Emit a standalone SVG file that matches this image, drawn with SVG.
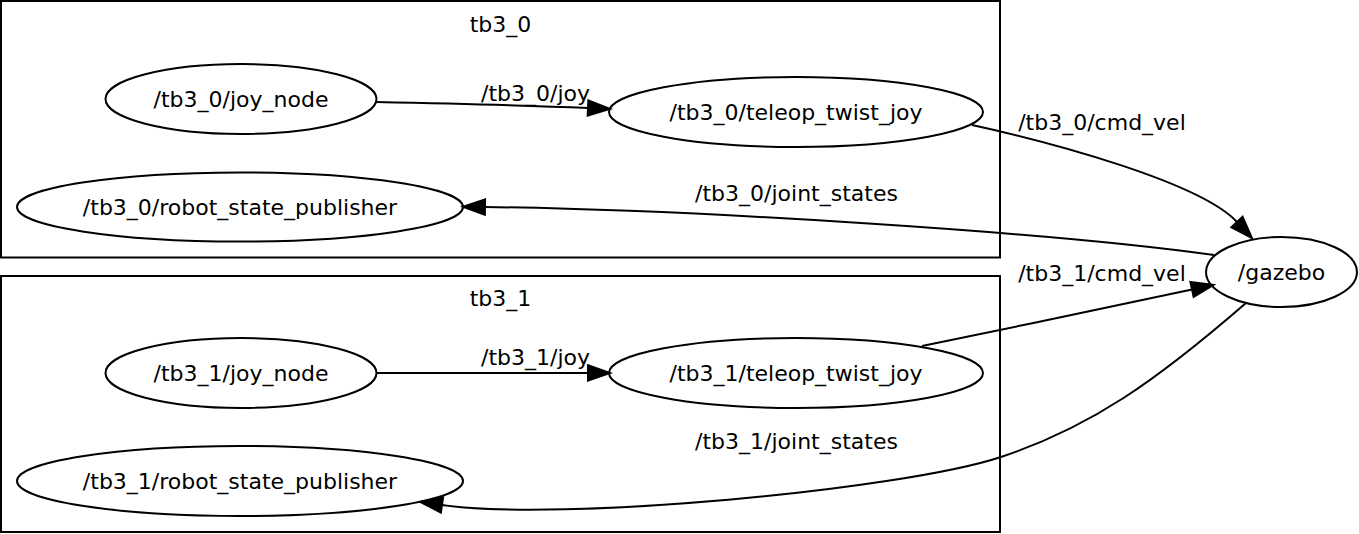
<svg xmlns="http://www.w3.org/2000/svg" width="1359" height="534" viewBox="0 0 1359 534">
<style>
text{font-family:"DejaVu Sans","Liberation Sans",sans-serif;font-size:22px;fill:#000;text-anchor:middle}
.cl{fill:none;stroke:#000;stroke-width:2}
.nd{fill:none;stroke:#000;stroke-width:2}
.ed{fill:none;stroke:#000;stroke-width:2;marker-end:url(#ah)}
</style>
<defs>
<marker id="ah" markerUnits="userSpaceOnUse" viewBox="0 -3.5 10 7" markerWidth="22" markerHeight="15.4" refX="0" refY="0" orient="auto" overflow="visible">
<path d="M0,-3.5 L10,0 L0,3.5 Z" fill="#000" stroke="#000" stroke-width="0.9"/>
</marker>
</defs>
<rect width="1359" height="534" fill="#fff"/>
<g id="cluster_tb3_0">
<rect class="cl" x="1" y="1" width="999" height="256.5"/>
<text x="500.5" y="32">tb3_0</text>
</g>
<g id="cluster_tb3_1">
<rect class="cl" x="1" y="276" width="999" height="256"/>
<text x="500.5" y="306">tb3_1</text>
</g>
<g id="connectors">
<path class="ed" d="M376,102 C450,103.5 520,105 588,108"/>
<text x="535.5" y="101">/tb3_0/joy</text>
<path class="ed" d="M972,125 C1050,142 1200,182 1237,222"/>
<text x="1102" y="130">/tb3_0/cmd_vel</text>
<path class="ed" d="M1214,255 C1050,232 700,210 485,207"/>
<text x="796.5" y="201">/tb3_0/joint_states</text>
<path class="ed" d="M922,346 C1010,328 1110,307 1192,289.5"/>
<text x="1102" y="281">/tb3_1/cmd_vel</text>
<path class="ed" d="M1246,303 C1156,381 1091,427 1001,457 C901,490 560,522 442,505"/>
<text x="796.5" y="449">/tb3_1/joint_states</text>
<path class="ed" d="M376,373 L588,373"/>
<text x="535.5" y="365">/tb3_1/joy</text>
</g>
<g id="n_tb3_0_joy_node">
<ellipse class="nd" cx="241" cy="99" rx="135.5" ry="35"/>
<text x="241" y="106.5">/tb3_0/joy_node</text>
</g>
<g id="n_tb3_0_teleop_twist_joy">
<ellipse class="nd" cx="796" cy="112" rx="187" ry="35"/>
<text x="796" y="119.5">/tb3_0/teleop_twist_joy</text>
</g>
<g id="n_tb3_0_robot_state_publisher">
<ellipse class="nd" cx="240" cy="207" rx="223" ry="34.5"/>
<text x="240" y="214.5">/tb3_0/robot_state_publisher</text>
</g>
<g id="n_gazebo">
<ellipse class="nd" cx="1281.5" cy="272" rx="75.5" ry="35"/>
<text x="1281.5" y="279.5">/gazebo</text>
</g>
<g id="n_tb3_1_joy_node">
<ellipse class="nd" cx="241" cy="373" rx="135.5" ry="35"/>
<text x="241" y="380.5">/tb3_1/joy_node</text>
</g>
<g id="n_tb3_1_teleop_twist_joy">
<ellipse class="nd" cx="796" cy="373" rx="187" ry="35"/>
<text x="796" y="380.5">/tb3_1/teleop_twist_joy</text>
</g>
<g id="n_tb3_1_robot_state_publisher">
<ellipse class="nd" cx="240" cy="481" rx="223" ry="35"/>
<text x="240" y="488.5">/tb3_1/robot_state_publisher</text>
</g>
</svg>
